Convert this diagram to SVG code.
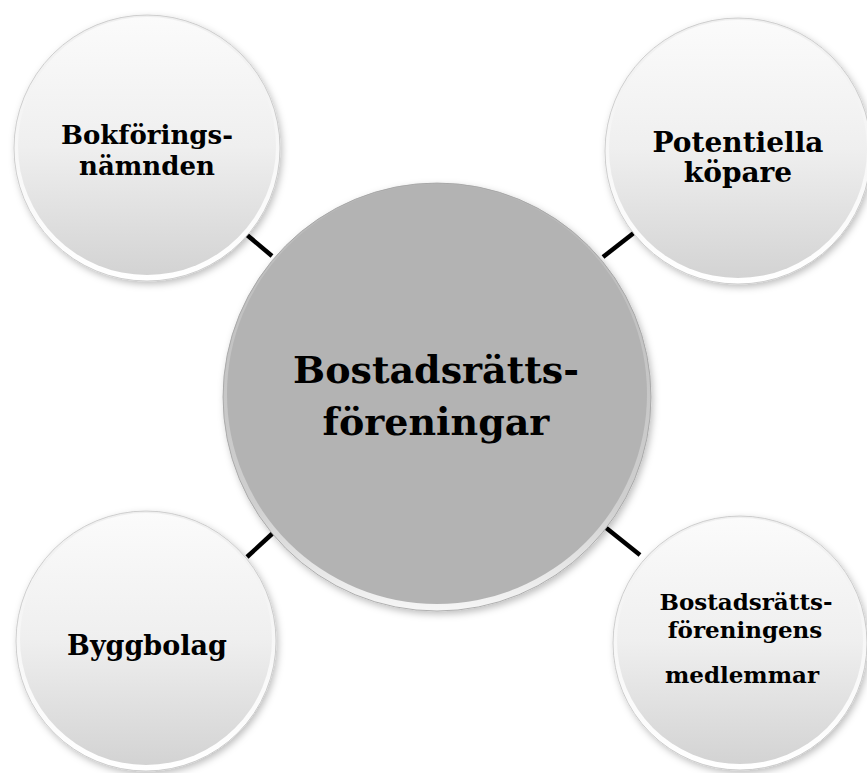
<svg xmlns="http://www.w3.org/2000/svg" width="867" height="773" viewBox="0 0 867 773">
<defs>
<linearGradient id="rimW" x1="0" y1="0" x2="0" y2="1">
<stop offset="0" stop-color="#efefef"/><stop offset="1" stop-color="#ffffff"/>
</linearGradient>
<linearGradient id="fillW" x1="0" y1="0" x2="0" y2="1">
<stop offset="0" stop-color="#fbfbfb"/><stop offset="0.5" stop-color="#efefef"/><stop offset="1" stop-color="#d3d3d3"/>
</linearGradient>
<linearGradient id="rimG" x1="0" y1="0" x2="0" y2="1">
<stop offset="0" stop-color="#b8b8b8"/><stop offset="0.75" stop-color="#cfcfcf"/><stop offset="1" stop-color="#f6f6f6"/>
</linearGradient>
<filter id="sh" x="-20%" y="-20%" width="140%" height="140%">
<feDropShadow dx="2" dy="3" stdDeviation="3.5" flood-color="#000" flood-opacity="0.25"/>
</filter>
</defs>
<style>
.outer{fill:url(#rimW);stroke:#c4c4c4;stroke-width:0.8;filter:url(#sh)}
.inner{fill:url(#fillW)}
.couter{fill:url(#rimG);stroke:#a0a0a0;stroke-width:0.8;filter:url(#sh)}
.cinner{fill:#b3b3b3}
text{font-family:"DejaVu Serif","Liberation Serif",serif;font-weight:bold;fill:#000;text-anchor:middle}
.conn{stroke:#000;stroke-width:4.5;stroke-linecap:butt}
</style>
<rect width="867" height="773" fill="#fff"/>
<g id="connectors">
<line class="conn" x1="247" y1="235" x2="272" y2="256"/>
<line class="conn" x1="635" y1="232" x2="603" y2="257"/>
<line class="conn" x1="273" y1="533" x2="247" y2="557"/>
<line class="conn" x1="605" y1="527" x2="640" y2="555"/>
</g>
<g id="node-bokforingsnamnden">
<circle class="outer" cx="147" cy="148" r="133"/>
<circle class="inner" cx="147" cy="146" r="129"/>
<text x="147" y="144" font-size="26">Bokförings-</text>
<text x="147" y="175" font-size="26">nämnden</text>
</g>
<g id="node-potentiella-kopare">
<circle class="outer" cx="738" cy="151" r="133"/>
<circle class="inner" cx="738" cy="149" r="129"/>
<text x="738" y="152" font-size="28">Potentiella</text>
<text x="738" y="182" font-size="28">köpare</text>
</g>
<g id="node-byggbolag">
<circle class="outer" cx="146" cy="641" r="130"/>
<circle class="inner" cx="146" cy="639" r="126"/>
<text x="147" y="655" font-size="27">Byggbolag</text>
</g>
<g id="node-medlemmar">
<circle class="outer" cx="740" cy="643" r="127"/>
<circle class="inner" cx="740" cy="641" r="123"/>
<text x="746" y="610" font-size="23">Bostadsrätts-</text>
<text x="745" y="638" font-size="23">föreningens</text>
<text x="742" y="683" font-size="23">medlemmar</text>
</g>
<g id="node-bostadsrattsforeningar">
<circle class="couter" cx="437" cy="397" r="214"/>
<circle class="cinner" cx="437" cy="394" r="210"/>
<text x="436" y="383" font-size="38">Bostadsrätts-</text>
<text x="436" y="435" font-size="38">föreningar</text>
</g>
</svg>
